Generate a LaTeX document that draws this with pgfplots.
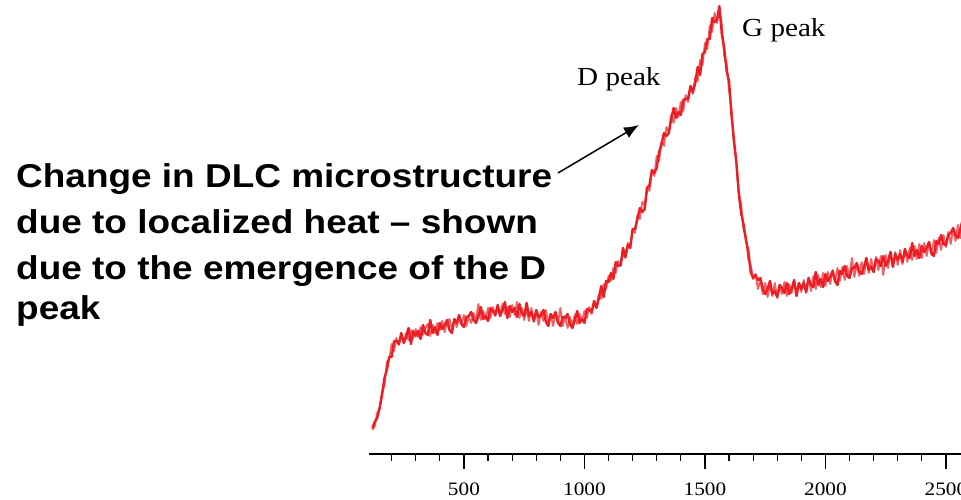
\documentclass[border=0pt]{standalone}
\usepackage{fontspec}
\setmainfont{Liberation Serif}[FakeStretch=1.12]
\newfontfamily\arialb{Liberation Sans}[FakeStretch=1.12]
\usepackage{pgfplots}
\pgfplotsset{compat=1.18}
\usetikzlibrary{arrows.meta}
\definecolor{specred}{RGB}{236,30,36}
\begin{document}
\begin{tikzpicture}[x=1pt,y=1pt]
\begin{axis}[
  at={(369pt,46pt)}, anchor=south west,
  scale only axis, width=601pt, height=454pt,
  xmin=106, xmax=2600, ymin=0, ymax=454,
  axis x line=bottom, axis y line=none,
  axis line style={-, line width=1.3pt, black},
  xtick={500,1000,1500,2000,2500},
  minor xtick={200,300,400,600,700,800,900,1100,1200,1300,1400,1600,1700,1800,1900,2100,2200,2300,2400,2600},
  tick align=outside,
  major tick length=15pt, minor tick length=7pt,
  every tick/.style={black, line width=1.2pt},
  tick label style={font=\fontsize{19}{20}\selectfont},
  xticklabel style={yshift=-10pt},
  /pgf/number format/assume math mode=true,
  /pgf/number format/1000 sep={},
  clip=true,
]
\addplot[specred!70!white, line width=1.9pt, line join=round] coordinates {
(120,24)(130,28)(140,41)(150,45)(160,62)(170,68)(180,92)(190,95)(200,110)(210,103)
(220,116)(230,109)(240,119)(250,112)(260,121)(270,114)(280,124)(290,116)(300,125)(310,117)
(320,127)(330,119)(340,126)(350,130)(360,118)(370,129)(380,121)(390,131)(400,124)(410,133)
(420,122)(430,131)(440,135)(450,125)(460,134)(470,127)(480,137)(490,129)(500,139)(510,128)
(520,137)(530,131)(540,141)(550,133)(560,150)(570,134)(580,143)(590,135)(600,146)(610,136)
(620,147)(630,138)(640,149)(650,139)(660,150)(670,140)(680,147)(690,137)(700,149)(710,139)
(720,152)(730,136)(740,146)(750,134)(760,145)(770,133)(780,146)(790,132)(800,143)(810,129)
(820,142)(830,133)(840,144)(850,131)(860,140)(870,128)(880,141)(890,130)(900,146)(910,128)
(920,138)(930,126)(940,137)(950,129)(960,139)(970,130)(980,140)(990,133)(1000,143)(1010,136)
(1020,147)(1030,140)(1040,152)(1050,147)(1060,160)(1070,155)(1080,170)(1090,165)(1100,178)(1110,173)
(1120,186)(1130,181)(1140,193)(1150,188)(1160,201)(1170,196)(1180,211)(1190,208)(1200,225)(1210,221)
(1220,239)(1230,235)(1240,252)(1250,249)(1260,267)(1270,263)(1280,283)(1290,278)(1300,298)(1310,293)
(1320,313)(1330,308)(1340,327)(1350,321)(1360,339)(1370,331)(1380,346)(1390,337)(1400,352)(1410,343)
(1420,359)(1430,352)(1440,368)(1450,360)(1460,377)(1470,373)(1480,394)(1490,389)(1500,411)(1510,405)
(1520,428)(1530,422)(1540,441)(1550,431)(1560,445)(1570,430)(1580,398)(1590,391)(1600,364)(1610,345)
(1620,310)(1630,292)(1640,262)(1650,250)(1660,225)(1670,217)(1680,195)(1690,189)(1700,175)(1710,180)
(1720,165)(1730,174)(1740,160)(1750,171)(1760,157)(1770,169)(1780,158)(1790,171)(1800,156)(1810,168)
(1820,160)(1830,172)(1840,158)(1850,170)(1860,161)(1870,173)(1880,159)(1890,171)(1900,162)(1910,174)
(1920,161)(1930,176)(1940,163)(1950,178)(1960,165)(1970,179)(1980,167)(1990,181)(2000,168)(2010,182)
(2020,170)(2030,184)(2040,172)(2050,186)(2060,173)(2070,187)(2080,174)(2090,188)(2100,176)(2110,196)
(2120,177)(2130,190)(2140,178)(2150,192)(2160,180)(2170,194)(2180,181)(2190,195)(2200,182)(2210,197)
(2220,184)(2230,198)(2240,179)(2250,199)(2260,186)(2270,201)(2280,188)(2290,202)(2300,189)(2310,204)
(2320,190)(2330,205)(2340,192)(2350,206)(2360,194)(2370,208)(2380,195)(2390,210)(2400,196)(2410,211)
(2420,198)(2430,212)(2440,199)(2450,214)(2460,201)(2470,216)(2480,204)(2490,219)(2500,207)(2510,222)
(2520,210)(2530,225)(2540,213)(2550,229)(2560,216)(2570,231)(2580,220)(2590,234)
};
\addplot[specred, line width=2.4pt, line join=round] coordinates {
(120,26)(130,32)(140,36)(150,46)(160,59)(170,76)(180,84)(190,97)(200,97)(210,113)
(220,113)(230,110)(240,121)(250,111)(260,117)(270,126)(280,110)(290,123)(300,118)(310,123)
(320,115)(330,129)(340,121)(350,119)(360,134)(370,121)(380,127)(390,119)(400,131)(410,125)
(420,129)(430,134)(440,124)(450,121)(460,135)(470,131)(480,139)(490,130)(500,127)(510,137)
(520,138)(530,142)(540,134)(550,131)(560,138)(570,147)(580,135)(590,138)(600,133)(610,146)
(620,143)(630,139)(640,149)(650,138)(660,144)(670,152)(680,136)(690,148)(700,142)(710,146)
(720,137)(730,150)(740,141)(750,138)(760,151)(770,138)(780,142)(790,133)(800,144)(810,137)
(820,139)(830,144)(840,132)(850,128)(860,140)(870,136)(880,142)(890,132)(900,128)(910,137)
(920,136)(930,140)(940,130)(950,126)(960,134)(970,143)(980,131)(990,135)(1000,131)(1010,145)
(1020,144)(1030,142)(1040,153)(1050,146)(1060,156)(1070,168)(1080,157)(1090,173)(1100,172)(1110,181)
(1120,175)(1130,192)(1140,188)(1150,189)(1160,206)(1170,197)(1180,209)(1190,206)(1200,225)(1210,225)
(1220,235)(1230,246)(1240,242)(1250,245)(1260,266)(1270,269)(1280,284)(1290,281)(1300,286)(1310,302)
(1320,310)(1330,321)(1340,318)(1350,321)(1360,335)(1370,346)(1380,336)(1390,342)(1400,339)(1410,354)
(1420,355)(1430,355)(1440,368)(1450,362)(1460,371)(1470,387)(1480,379)(1490,400)(1500,402)(1510,415)
(1520,415)(1530,436)(1540,432)(1550,434)(1560,448)(1570,420)(1580,406)(1590,383)(1600,373)(1610,340)
(1620,315)(1630,293)(1640,262)(1650,241)(1660,230)(1670,214)(1680,203)(1690,182)(1700,176)(1710,179)
(1720,174)(1730,176)(1740,165)(1750,160)(1760,165)(1770,173)(1780,160)(1790,163)(1800,157)(1810,169)
(1820,166)(1830,161)(1840,171)(1850,160)(1860,165)(1870,174)(1880,158)(1890,171)(1900,165)(1910,171)
(1920,162)(1930,176)(1940,169)(1950,167)(1960,182)(1970,169)(1980,175)(1990,167)(2000,180)(2010,173)
(2020,177)(2030,183)(2040,173)(2050,169)(2060,183)(2070,180)(2080,188)(2090,178)(2100,176)(2110,186)
(2120,186)(2130,191)(2140,183)(2150,180)(2160,187)(2170,196)(2180,184)(2190,187)(2200,182)(2210,195)
(2220,193)(2230,188)(2240,198)(2250,188)(2260,193)(2270,202)(2280,187)(2290,200)(2300,194)(2310,200)
(2320,192)(2330,205)(2340,198)(2350,196)(2360,211)(2370,198)(2380,204)(2390,196)(2400,208)(2410,202)
(2420,206)(2430,212)(2440,201)(2450,198)(2460,213)(2470,210)(2480,219)(2490,210)(2500,209)(2510,219)
(2520,221)(2530,226)(2540,219)(2550,216)(2560,225)(2570,235)(2580,223)(2590,228)
};
\end{axis}
\node[anchor=base west, inner sep=0pt, font=\fontsize{26}{28}\selectfont] at (577,414) {D peak};
\node[anchor=base west, inner sep=0pt, font=\fontsize{26}{28}\selectfont] at (742,463) {G peak};
\draw[black, line width=1.5pt, -{Latex[length=15pt,width=12pt]}] (558,327) -- (639,375);
\begin{scope}[every node/.style={anchor=base west, inner sep=0pt, font=\arialb\bfseries\fontsize{33}{40}\selectfont}]
\node at (16,312) {Change in DLC microstructure};
\node at (16,266) {due to localized heat – shown};
\node at (16,220) {due to the emergence of the D};
\node at (16,180) {peak};
\end{scope}
\pgfresetboundingbox
\path[use as bounding box] (0,0) rectangle (961,500);
\end{tikzpicture}
\end{document}
